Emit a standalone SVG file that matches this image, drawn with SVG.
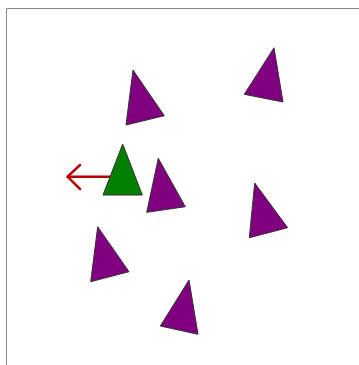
<svg xmlns="http://www.w3.org/2000/svg" width="359" height="365" viewBox="0 0 359 365">
<style>
.p{fill:#800080;stroke:#333;stroke-width:1;stroke-linejoin:miter}
.g{fill:#008000;stroke:#333;stroke-width:1}
.a{fill:none;stroke:#b50000;stroke-width:2.5;stroke-linecap:round;stroke-linejoin:round}
</style>
<rect x="0" y="0" width="359" height="365" fill="#fff"/>
<path d="M6.5 365V8.5H359" fill="none" stroke="#888" stroke-width="1"/>
<g id="connectors">
<path class="a" d="M111 176.7H67.5M80 165L67.5 176.7L80 189"/>
</g>
<g id="agent"><polygon class="g" points="122.7,144 103,195 142.3,195"/></g>
<g id="t1"><polygon class="p" points="133,70 126,125 164.3,115.7"/></g>
<g id="t2"><polygon class="p" points="274,47.7 244.3,94.3 283,102"/></g>
<g id="t3"><polygon class="p" points="158.3,158.3 146.7,212.3 185.3,206.7"/></g>
<g id="t4"><polygon class="p" points="254.7,183 249.3,237.7 287.7,227.7"/></g>
<g id="t5"><polygon class="p" points="97.7,226.7 90.7,281.7 129,271.7"/></g>
<g id="t6"><polygon class="p" points="189,280 160.3,326 198,334.3"/></g>
</svg>
